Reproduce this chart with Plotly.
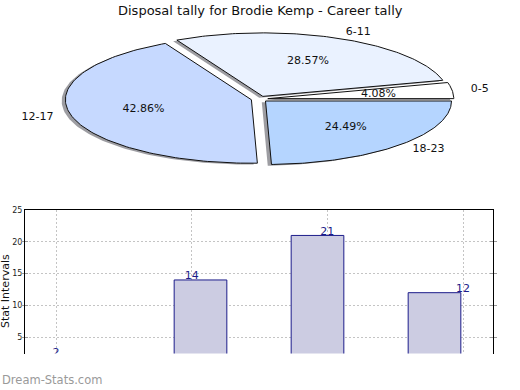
import numpy as np
import plotly.graph_objects as go

# ---- data ----
categories = ["0-5", "6-11", "12-17", "18-23"]
values = [2, 14, 21, 12]
slice_colors = ["#ffffff", "#eaf2ff", "#c6d9ff", "#b5d5ff"]
title_text = "Disposal tally for Brodie Kemp - Career tally"
ytick_vals = [5, 10, 15, 20, 25]

W, H = 520, 390
explode = 0.045
FONT = "DejaVu Sans"


def px_x(px):
    return px / W


def px_y(py):
    return 1 - py / H


fig = go.Figure()

# ---- pie (elliptical, exploded, shadowed) on xaxis2/yaxis2 in radius units ----
vals = np.array(values, dtype=float)
frac = vals / vals.sum()
starts = np.concatenate([[0], np.cumsum(frac)[:-1]]) * 360.0
ends = np.cumsum(frac) * 360.0

wedges = []
for i in range(len(values)):
    t1, t2 = starts[i], ends[i]
    mid = np.radians((t1 + t2) / 2)
    cx, cy = explode * np.cos(mid), explode * np.sin(mid)
    th = np.radians(np.linspace(t1, t2, 120))
    xs = np.concatenate([[cx], cx + np.cos(th), [cx]])
    ys = np.concatenate([[cy], cy + np.sin(th), [cy]])
    wedges.append((xs, ys, cx, cy, mid))

# shadows first
for xs, ys, cx, cy, mid in wedges:
    fig.add_trace(go.Scatter(x=xs - 0.02, y=ys - 0.02, mode="lines", fill="toself",
                             fillcolor="rgba(60,60,70,0.5)", line=dict(width=0),
                             xaxis="x2", yaxis="y2", hoverinfo="skip", showlegend=False))
for i, (xs, ys, cx, cy, mid) in enumerate(wedges):
    fig.add_trace(go.Scatter(x=xs, y=ys, mode="lines", fill="toself",
                             fillcolor=slice_colors[i], line=dict(color="#111111", width=1),
                             xaxis="x2", yaxis="y2", hoverinfo="skip", showlegend=False))

# percent labels and category labels
for i, (xs, ys, cx, cy, mid) in enumerate(wedges):
    fig.add_trace(go.Scatter(x=[cx + 0.6 * np.cos(mid)], y=[cy + 0.6 * np.sin(mid)],
                             mode="text", text=["%.2f%%" % (frac[i] * 100)],
                             textposition="middle center",
                             textfont=dict(family=FONT, size=11, color="#111111"),
                             xaxis="x2", yaxis="y2", hoverinfo="skip", showlegend=False))
    lx, ly = cx + 1.1 * np.cos(mid), cy + 1.1 * np.sin(mid)
    fig.add_trace(go.Scatter(x=[lx], y=[ly], mode="text", text=[categories[i]],
                             textposition="middle right" if lx > 0 else "middle left",
                             textfont=dict(family=FONT, size=11, color="#111111"),
                             xaxis="x2", yaxis="y2", hoverinfo="skip", showlegend=False))

# pie axes geometry (window pixels)
pcx, pcy, Rx, Ry = 259.5, 99.0, 186.0, 63.5
pie_bottom_px = 195
pie_xrange = [(0 - pcx) / Rx, (W - pcx) / Rx]
pie_yrange = [(pcy - pie_bottom_px) / Ry, (pcy - 0) / Ry]

# ---- bar chart ----
bar_left, bar_right, bar_top, bar_bottom = 25, 493, 210, 353.5
tick0_px, tick_step_px = 56, 135.67
ypx_per_unit = 6.36
label_lift_px = 3.5  # value labels sit just above each bar top

fig.add_trace(go.Bar(x=list(range(len(values))), y=values, width=0.45,
                     marker=dict(color="#ccccE2", line=dict(color="#1c1c8a", width=1)),
                     xaxis="x", yaxis="y", hoverinfo="skip", showlegend=False))
fig.add_trace(go.Scatter(x=list(range(len(values))),
                         y=[v + label_lift_px / ypx_per_unit for v in values],
                         mode="text", text=[str(v) for v in values],
                         textposition="middle center",
                         textfont=dict(family=FONT, size=11, color="#1c1c8a"),
                         cliponaxis=True,
                         xaxis="x3", yaxis="y", hoverinfo="skip", showlegend=False))

grid = dict(showgrid=True, gridcolor="#c4c4c4", griddash="2px,2px", gridwidth=1)

fig.update_layout(
    width=W, height=H,
    margin=dict(l=0, r=0, t=0, b=0, autoexpand=False),
    paper_bgcolor="white", plot_bgcolor="rgba(0,0,0,0)",
    font=dict(family=FONT, color="#111111"),
    xaxis=dict(domain=[px_x(bar_left), px_x(bar_right)], range=[-0.5, len(values) - 0.5],
               side="top", showline=True, linecolor="black", linewidth=1,
               showticklabels=False, ticks="", showgrid=False, zeroline=False,
               automargin=False, fixedrange=True),
    xaxis3=dict(overlaying="x", range=[(bar_left - tick0_px) / tick_step_px,
                                       (bar_right - tick0_px) / tick_step_px],
                tickvals=list(range(len(values))), showticklabels=False, ticks="",
                zeroline=False, showline=False, automargin=False, **grid),
    yaxis=dict(domain=[px_y(bar_bottom), px_y(bar_top)],
               range=[25 - (bar_bottom - bar_top) / ypx_per_unit, 25],
               tickvals=ytick_vals, ticks="inside", ticklen=3, tickcolor="#999999",
               showline=True, mirror="allticks", linecolor="black", linewidth=1,
               tickfont=dict(size=8, color="#222222"), zeroline=False,
               automargin=False, **grid),
    xaxis2=dict(domain=[0, 1], range=pie_xrange, visible=False, anchor="y2"),
    yaxis2=dict(domain=[px_y(pie_bottom_px), 1], range=pie_yrange, visible=False, anchor="x2"),
    annotations=[
        dict(text=title_text, x=px_x(260), y=px_y(10), xref="paper", yref="paper",
             xanchor="center", yanchor="middle", showarrow=False,
             font=dict(family=FONT, size=13, color="#111111")),
        dict(text="Stat Intervals", x=px_x(5), y=px_y(291), xref="paper", yref="paper",
             xanchor="center", yanchor="middle", showarrow=False, textangle=-90,
             font=dict(family=FONT, size=11, color="#111111")),
        dict(text="Dream-Stats.com", x=px_x(0), y=px_y(380), xref="paper", yref="paper",
             xanchor="left", yanchor="middle", showarrow=False,
             font=dict(family=FONT, size=11.5, color="#9a9a9a")),
    ],
)

fig.write_html("out.html", config={"displayModeBar": False},
               post_script="document.body.style.margin='0px';")
